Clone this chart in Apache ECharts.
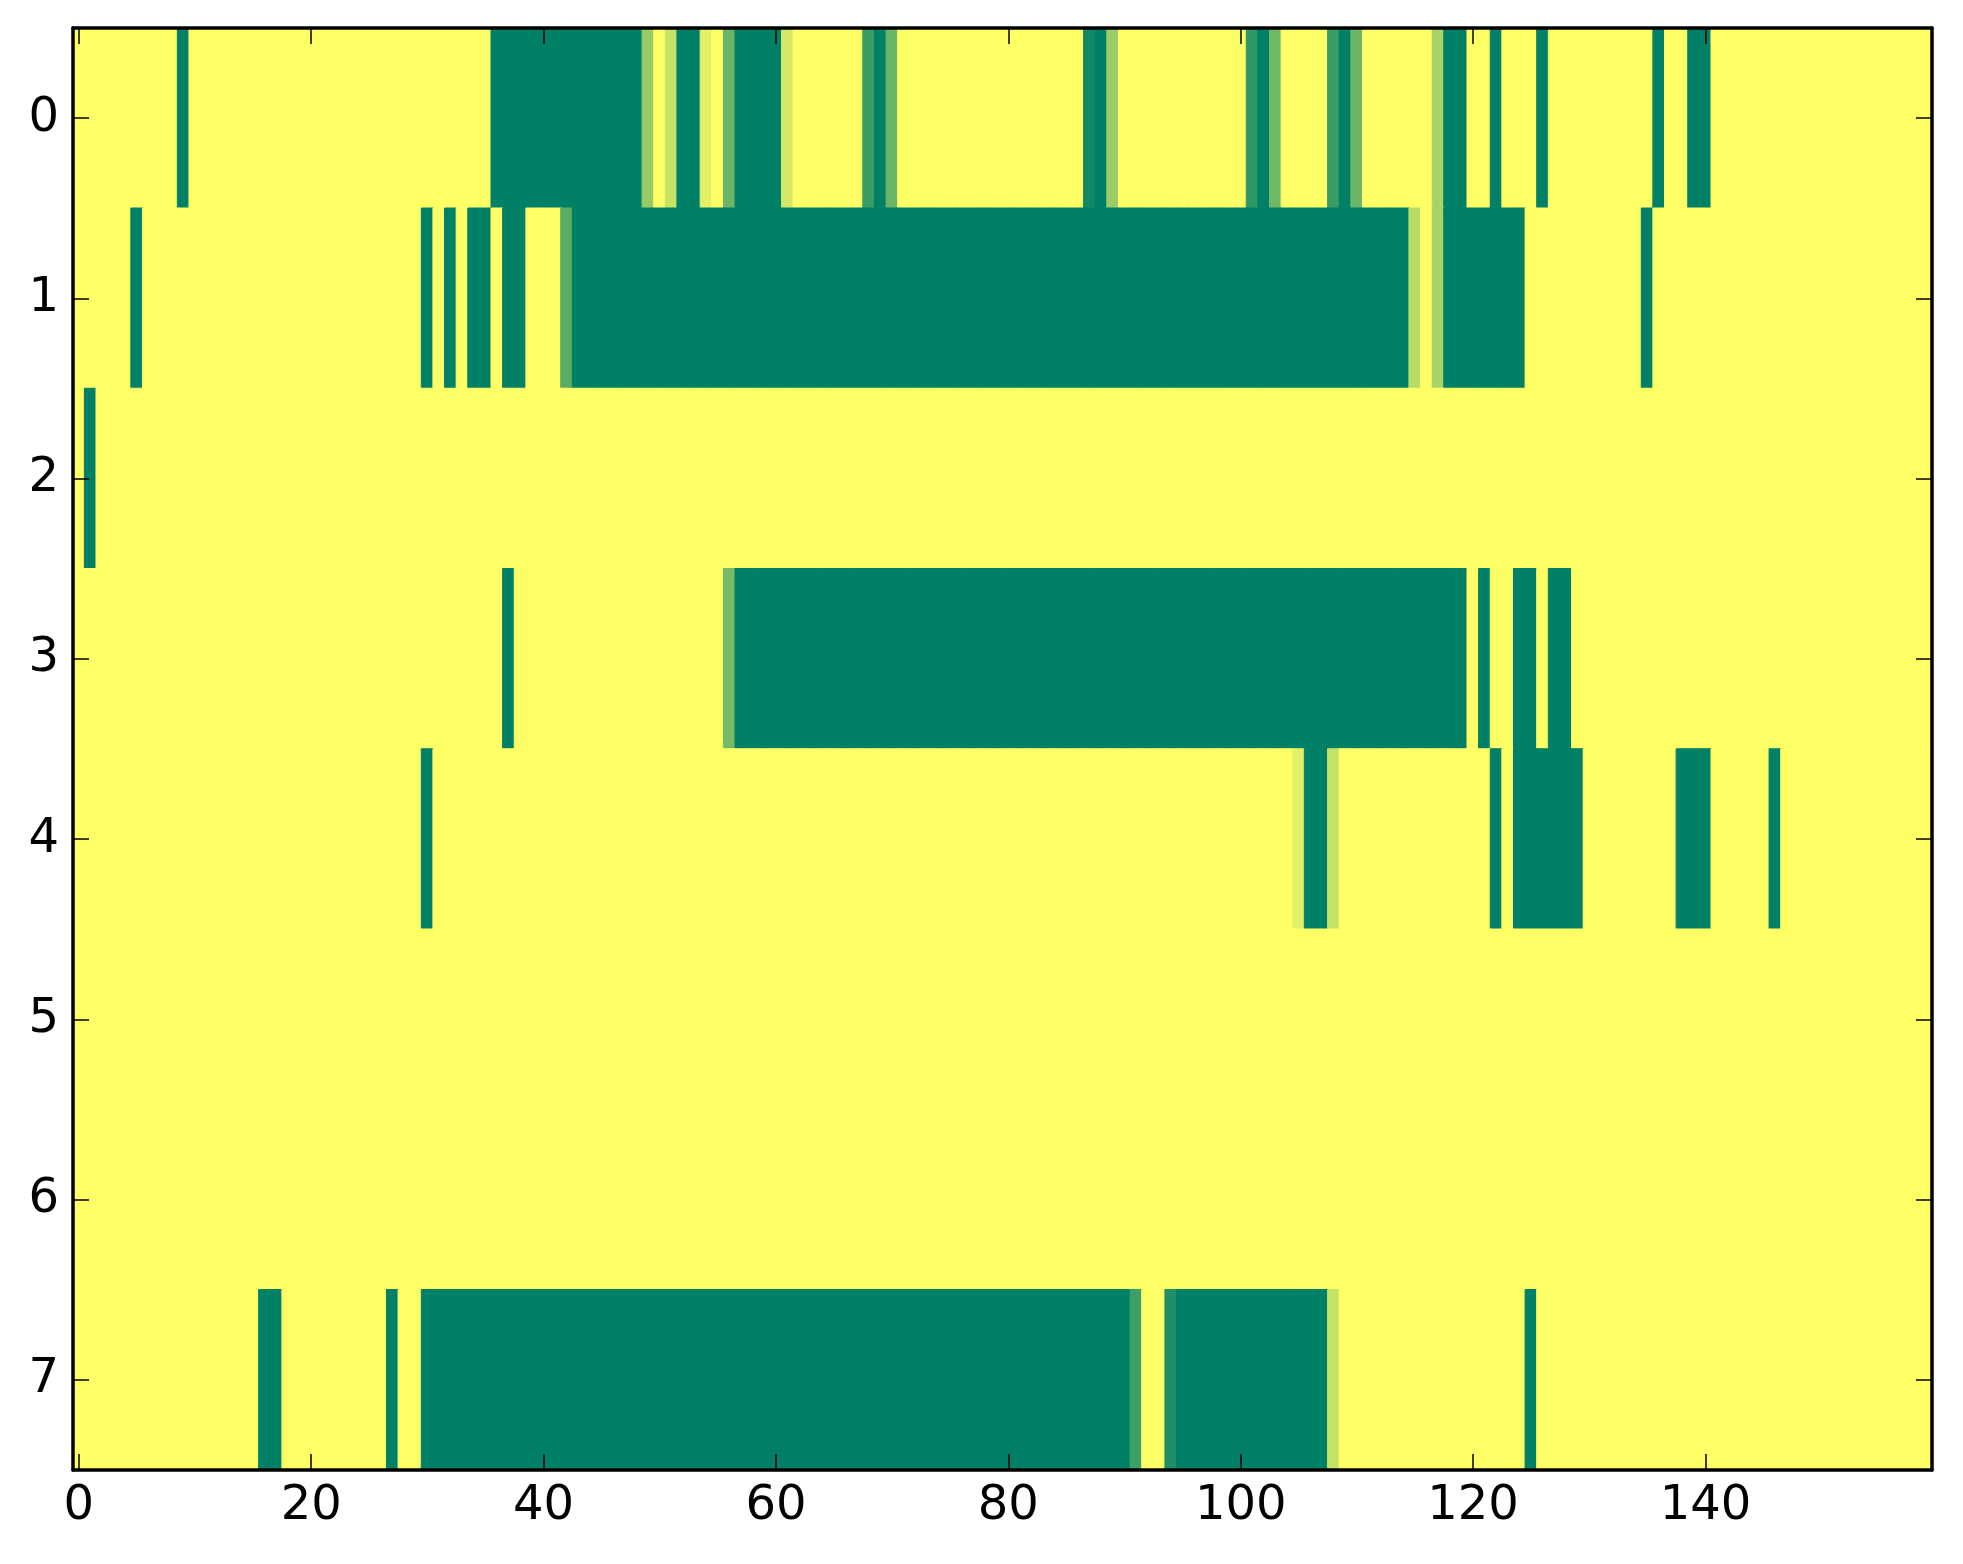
<!DOCTYPE html>
<html>
<head>
<meta charset="utf-8">
<script src="https://cdn.jsdelivr.net/npm/echarts@6/dist/echarts.min.js"></script>
<style>
html,body{margin:0;padding:0;background:#fff;}
#chart{width:1963px;height:1564px;}
</style>
</head>
<body>
<div id="chart"></div>
<script>
// ---- data ----
const columnCount = 160;
const rowLabels = ['0', '1', '2', '3', '4', '5', '6', '7'];
const xTickLabels = ['0', '20', '40', '60', '80', '100', '120', '140'];

// runs of non-zero cells per row: [firstColumn, lastColumn, value]; all other cells are 0
const row0Runs = [[9,9,1],[36,48,1],[49,49,0.41],[51,51,0.22],[52,53,1],[54,54,0.11],[56,56,0.58],[57,60,1],[61,61,0.17],[68,68,0.77],[69,69,1],[70,70,0.58],[87,87,0.93],[88,88,1],[89,89,0.39],[101,101,0.82],[102,102,1],[103,103,0.56],[108,108,0.77],[109,109,1],[110,110,0.58],[117,117,0.34],[118,119,1],[122,122,1],[126,126,1],[136,136,1],[139,140,1]];
const row1Runs = [[5,5,1],[30,30,1],[32,32,1],[34,35,1],[37,38,1],[42,42,0.65],[43,114,1],[115,115,0.28],[117,117,0.34],[118,124,1],[135,135,1]];
const row2Runs = [[1,1,1]];
const row3Runs = [[37,37,1],[56,56,0.54],[57,119,1],[121,121,1],[124,125,1],[127,128,1]];
const row4Runs = [[30,30,1],[105,105,0.11],[106,107,1],[108,108,0.23],[122,122,1],[124,129,1],[138,140,1],[146,146,1]];
const row5Runs = [];
const row6Runs = [];
const row7Runs = [[16,17,1],[27,27,1],[30,90,1],[91,91,0.76],[94,94,0.88],[95,107,1],[108,108,0.23],[125,125,1]];

const allRuns = [row0Runs, row1Runs, row2Runs, row3Runs, row4Runs, row5Runs, row6Runs, row7Runs];
const colorStops = ['#ffff66', '#008066'];

// ---- build heatmap table ----
const columns = [];
for (let c = 0; c < columnCount; c++) columns.push(String(c));
const cells = [];
allRuns.forEach((runs, r) => {
  const rowVals = new Array(columnCount).fill(0);
  runs.forEach(([a, b, v]) => { for (let c = a; c <= b; c++) rowVals[c] = v; });
  rowVals.forEach((v, c) => {
    const col = echarts.color.lerp(v, colorStops);
    cells.push({value: [c, r, v], itemStyle: {color: col, borderColor: col, borderWidth: 1}});
  });
});

const font = 'DejaVu Sans';
const showTick = (i, v) => xTickLabels.indexOf(String(v)) >= 0;
const lineStyle = {color: '#000', width: 3.5};
const tickStyle = {color: '#000', width: 1.5};

const chart = echarts.init(document.getElementById('chart'), null, {renderer: 'canvas'});
chart.setOption({
  animation: false,
  backgroundColor: '#fff',
  grid: {left: 73, right: 31, top: 28, bottom: 94, containLabel: false},
  xAxis: [
    {
      type: 'category', data: columns, position: 'bottom', z: 10,
      axisLine: {show: true, onZero: false, lineStyle: lineStyle},
      axisTick: {show: true, inside: true, length: 16, alignWithLabel: true, interval: showTick, lineStyle: tickStyle},
      axisLabel: {show: true, interval: showTick, margin: 13, fontSize: 48, lineHeight: 48, fontFamily: font, color: '#000'},
      splitLine: {show: false}, splitArea: {show: false}
    },
    {
      type: 'category', data: columns, position: 'top', z: 10,
      axisLine: {show: true, onZero: false, lineStyle: lineStyle},
      axisTick: {show: true, inside: true, length: 16, alignWithLabel: true, interval: showTick, lineStyle: tickStyle},
      axisLabel: {show: false},
      splitLine: {show: false}, splitArea: {show: false}
    }
  ],
  yAxis: [
    {
      type: 'category', data: rowLabels, inverse: true, position: 'left', z: 10,
      axisLine: {show: true, onZero: false, lineStyle: lineStyle},
      axisTick: {show: true, inside: true, length: 16, alignWithLabel: true, lineStyle: tickStyle},
      axisLabel: {show: true, margin: 14, fontSize: 48, fontFamily: font, color: '#000'},
      splitLine: {show: false}, splitArea: {show: false}
    },
    {
      type: 'category', data: rowLabels, inverse: true, position: 'right', z: 10,
      axisLine: {show: true, onZero: false, lineStyle: lineStyle},
      axisTick: {show: true, inside: true, length: 16, alignWithLabel: true, lineStyle: tickStyle},
      axisLabel: {show: false},
      splitLine: {show: false}, splitArea: {show: false}
    }
  ],
  series: [{
    type: 'heatmap', xAxisIndex: 0, yAxisIndex: 0, data: cells,
    progressive: 0, emphasis: {disabled: true}
  }]
});
</script>
</body>
</html>
